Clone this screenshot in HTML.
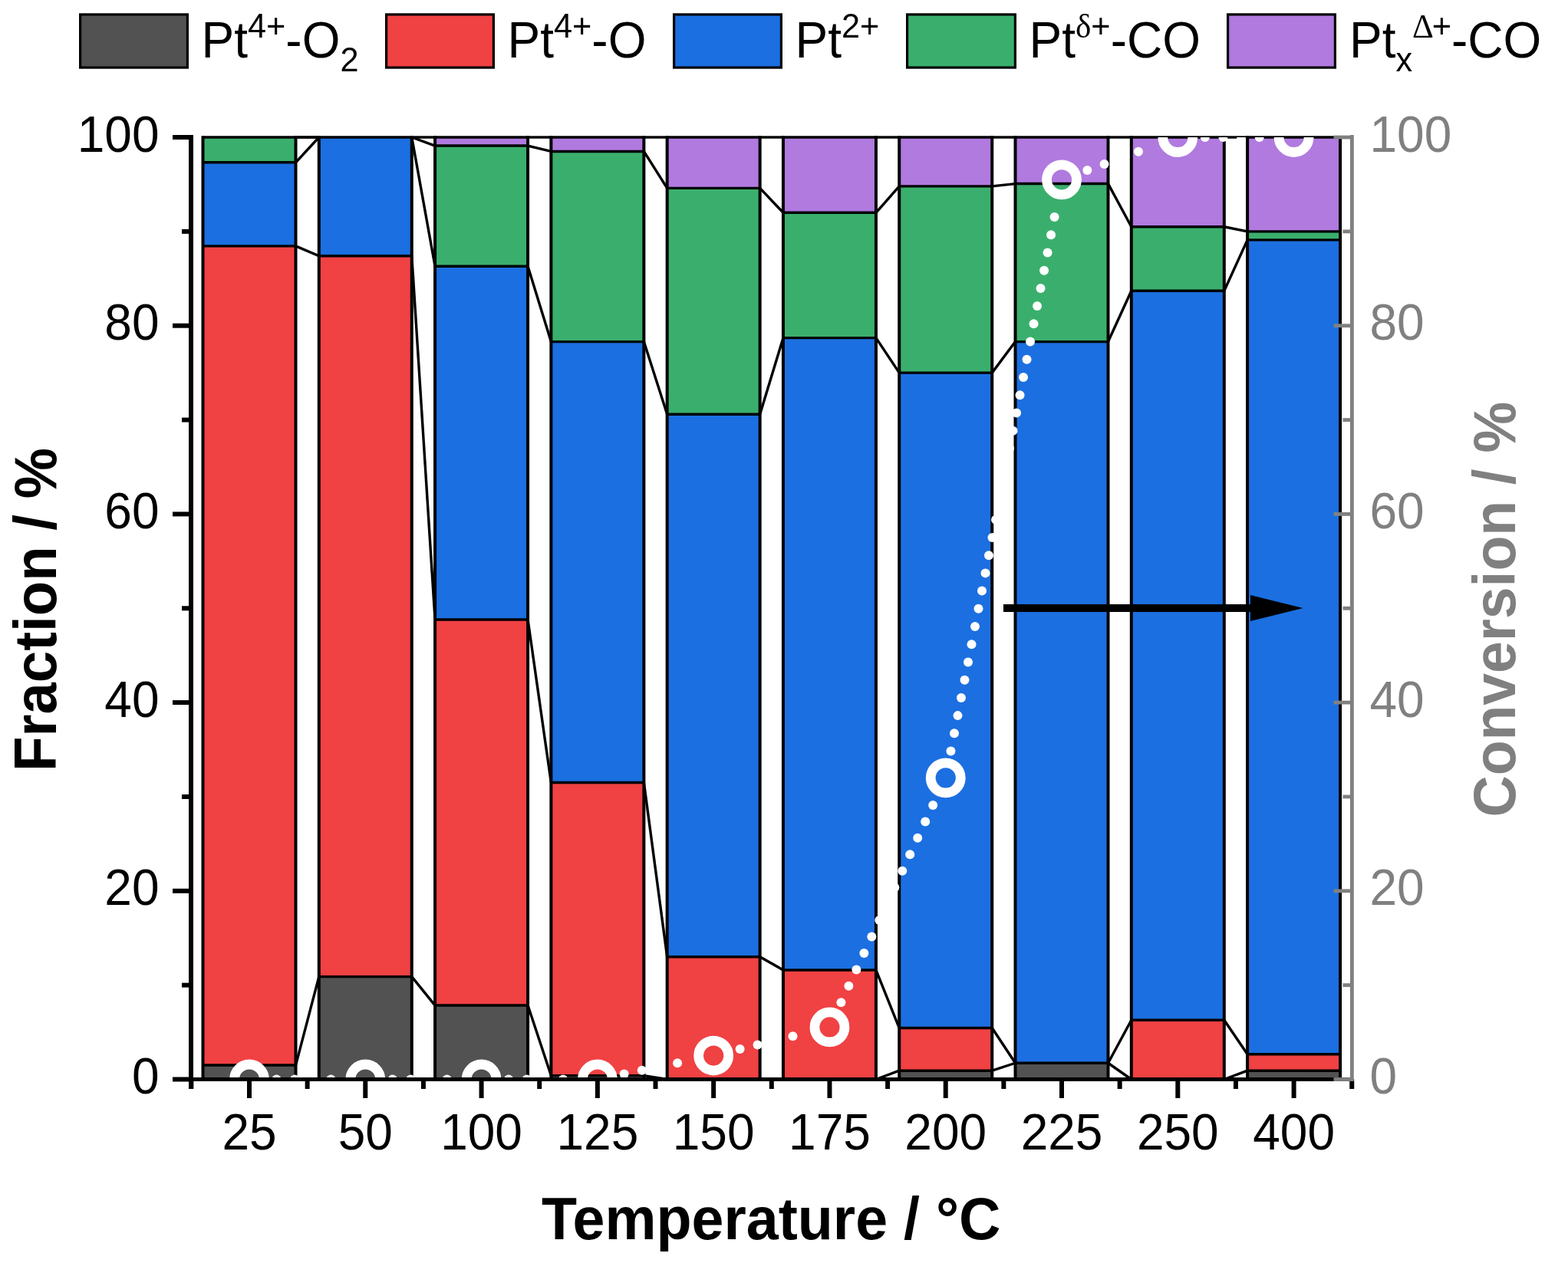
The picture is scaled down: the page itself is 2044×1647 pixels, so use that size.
<!DOCTYPE html>
<html><head><meta charset="utf-8"><title>Pt species fraction vs temperature</title>
<style>html,body{margin:0;padding:0;background:#fff;overflow:hidden;width:2044px;height:1647px;}svg{display:block;}</style>
</head><body>
<svg width="2044" height="1647" viewBox="0 0 2044 1647">
<rect width="2044" height="1647" fill="#fff"/>
<rect x="264.50" y="1389.07" width="121.00" height="18.43" fill="#525252"/>
<rect x="264.50" y="320.89" width="121.00" height="1068.18" fill="#F04143"/>
<rect x="264.50" y="211.80" width="121.00" height="109.09" fill="#1C6FE0"/>
<rect x="264.50" y="179.00" width="121.00" height="32.80" fill="#3AAF6D"/>
<line x1="264.50" y1="1407.50" x2="385.50" y2="1407.50" stroke="#000" stroke-width="3.4"/>
<line x1="264.50" y1="1389.07" x2="385.50" y2="1389.07" stroke="#000" stroke-width="3.4"/>
<line x1="264.50" y1="320.89" x2="385.50" y2="320.89" stroke="#000" stroke-width="3.4"/>
<line x1="264.50" y1="211.80" x2="385.50" y2="211.80" stroke="#000" stroke-width="3.4"/>
<line x1="264.50" y1="179.00" x2="385.50" y2="179.00" stroke="#000" stroke-width="3.4"/>
<line x1="264.50" y1="1409.20" x2="264.50" y2="177.30" stroke="#000" stroke-width="4.0"/>
<line x1="385.50" y1="1409.20" x2="385.50" y2="177.30" stroke="#000" stroke-width="4.0"/>
<rect x="415.79" y="1273.59" width="121.00" height="133.91" fill="#525252"/>
<rect x="415.79" y="333.79" width="121.00" height="939.80" fill="#F04143"/>
<rect x="415.79" y="179.00" width="121.00" height="154.79" fill="#1C6FE0"/>
<line x1="415.79" y1="1407.50" x2="536.79" y2="1407.50" stroke="#000" stroke-width="3.4"/>
<line x1="415.79" y1="1273.59" x2="536.79" y2="1273.59" stroke="#000" stroke-width="3.4"/>
<line x1="415.79" y1="333.79" x2="536.79" y2="333.79" stroke="#000" stroke-width="3.4"/>
<line x1="415.79" y1="179.00" x2="536.79" y2="179.00" stroke="#000" stroke-width="3.4"/>
<line x1="415.79" y1="1409.20" x2="415.79" y2="177.30" stroke="#000" stroke-width="4.0"/>
<line x1="536.79" y1="1409.20" x2="536.79" y2="177.30" stroke="#000" stroke-width="4.0"/>
<rect x="567.08" y="1311.06" width="121.00" height="96.44" fill="#525252"/>
<rect x="567.08" y="807.99" width="121.00" height="503.07" fill="#F04143"/>
<rect x="567.08" y="347.30" width="121.00" height="460.69" fill="#1C6FE0"/>
<rect x="567.08" y="190.06" width="121.00" height="157.25" fill="#3AAF6D"/>
<rect x="567.08" y="179.00" width="121.00" height="11.06" fill="#B07ADF"/>
<line x1="567.08" y1="1407.50" x2="688.08" y2="1407.50" stroke="#000" stroke-width="3.4"/>
<line x1="567.08" y1="1311.06" x2="688.08" y2="1311.06" stroke="#000" stroke-width="3.4"/>
<line x1="567.08" y1="807.99" x2="688.08" y2="807.99" stroke="#000" stroke-width="3.4"/>
<line x1="567.08" y1="347.30" x2="688.08" y2="347.30" stroke="#000" stroke-width="3.4"/>
<line x1="567.08" y1="190.06" x2="688.08" y2="190.06" stroke="#000" stroke-width="3.4"/>
<line x1="567.08" y1="179.00" x2="688.08" y2="179.00" stroke="#000" stroke-width="3.4"/>
<line x1="567.08" y1="1409.20" x2="567.08" y2="177.30" stroke="#000" stroke-width="4.0"/>
<line x1="688.08" y1="1409.20" x2="688.08" y2="177.30" stroke="#000" stroke-width="4.0"/>
<rect x="718.37" y="1402.59" width="121.00" height="4.91" fill="#525252"/>
<rect x="718.37" y="1020.52" width="121.00" height="382.06" fill="#F04143"/>
<rect x="718.37" y="445.58" width="121.00" height="574.94" fill="#1C6FE0"/>
<rect x="718.37" y="197.43" width="121.00" height="248.16" fill="#3AAF6D"/>
<rect x="718.37" y="179.00" width="121.00" height="18.43" fill="#B07ADF"/>
<line x1="718.37" y1="1407.50" x2="839.37" y2="1407.50" stroke="#000" stroke-width="3.4"/>
<line x1="718.37" y1="1402.59" x2="839.37" y2="1402.59" stroke="#000" stroke-width="3.4"/>
<line x1="718.37" y1="1020.52" x2="839.37" y2="1020.52" stroke="#000" stroke-width="3.4"/>
<line x1="718.37" y1="445.58" x2="839.37" y2="445.58" stroke="#000" stroke-width="3.4"/>
<line x1="718.37" y1="197.43" x2="839.37" y2="197.43" stroke="#000" stroke-width="3.4"/>
<line x1="718.37" y1="179.00" x2="839.37" y2="179.00" stroke="#000" stroke-width="3.4"/>
<line x1="718.37" y1="1409.20" x2="718.37" y2="177.30" stroke="#000" stroke-width="4.0"/>
<line x1="839.37" y1="1409.20" x2="839.37" y2="177.30" stroke="#000" stroke-width="4.0"/>
<rect x="869.66" y="1247.80" width="121.00" height="159.70" fill="#F04143"/>
<rect x="869.66" y="540.18" width="121.00" height="707.62" fill="#1C6FE0"/>
<rect x="869.66" y="245.34" width="121.00" height="294.84" fill="#3AAF6D"/>
<rect x="869.66" y="179.00" width="121.00" height="66.34" fill="#B07ADF"/>
<line x1="869.66" y1="1407.50" x2="990.66" y2="1407.50" stroke="#000" stroke-width="3.4"/>
<line x1="869.66" y1="1247.80" x2="990.66" y2="1247.80" stroke="#000" stroke-width="3.4"/>
<line x1="869.66" y1="540.18" x2="990.66" y2="540.18" stroke="#000" stroke-width="3.4"/>
<line x1="869.66" y1="245.34" x2="990.66" y2="245.34" stroke="#000" stroke-width="3.4"/>
<line x1="869.66" y1="179.00" x2="990.66" y2="179.00" stroke="#000" stroke-width="3.4"/>
<line x1="869.66" y1="1409.20" x2="869.66" y2="177.30" stroke="#000" stroke-width="4.0"/>
<line x1="990.66" y1="1409.20" x2="990.66" y2="177.30" stroke="#000" stroke-width="4.0"/>
<rect x="1020.95" y="1264.99" width="121.00" height="142.51" fill="#F04143"/>
<rect x="1020.95" y="440.67" width="121.00" height="824.32" fill="#1C6FE0"/>
<rect x="1020.95" y="277.28" width="121.00" height="163.39" fill="#3AAF6D"/>
<rect x="1020.95" y="179.00" width="121.00" height="98.28" fill="#B07ADF"/>
<line x1="1020.95" y1="1407.50" x2="1141.95" y2="1407.50" stroke="#000" stroke-width="3.4"/>
<line x1="1020.95" y1="1264.99" x2="1141.95" y2="1264.99" stroke="#000" stroke-width="3.4"/>
<line x1="1020.95" y1="440.67" x2="1141.95" y2="440.67" stroke="#000" stroke-width="3.4"/>
<line x1="1020.95" y1="277.28" x2="1141.95" y2="277.28" stroke="#000" stroke-width="3.4"/>
<line x1="1020.95" y1="179.00" x2="1141.95" y2="179.00" stroke="#000" stroke-width="3.4"/>
<line x1="1020.95" y1="1409.20" x2="1020.95" y2="177.30" stroke="#000" stroke-width="4.0"/>
<line x1="1141.95" y1="1409.20" x2="1141.95" y2="177.30" stroke="#000" stroke-width="4.0"/>
<rect x="1172.24" y="1396.20" width="121.00" height="11.30" fill="#525252"/>
<rect x="1172.24" y="1340.55" width="121.00" height="55.65" fill="#F04143"/>
<rect x="1172.24" y="486.12" width="121.00" height="854.42" fill="#1C6FE0"/>
<rect x="1172.24" y="242.88" width="121.00" height="243.24" fill="#3AAF6D"/>
<rect x="1172.24" y="179.00" width="121.00" height="63.88" fill="#B07ADF"/>
<line x1="1172.24" y1="1407.50" x2="1293.24" y2="1407.50" stroke="#000" stroke-width="3.4"/>
<line x1="1172.24" y1="1396.20" x2="1293.24" y2="1396.20" stroke="#000" stroke-width="3.4"/>
<line x1="1172.24" y1="1340.55" x2="1293.24" y2="1340.55" stroke="#000" stroke-width="3.4"/>
<line x1="1172.24" y1="486.12" x2="1293.24" y2="486.12" stroke="#000" stroke-width="3.4"/>
<line x1="1172.24" y1="242.88" x2="1293.24" y2="242.88" stroke="#000" stroke-width="3.4"/>
<line x1="1172.24" y1="179.00" x2="1293.24" y2="179.00" stroke="#000" stroke-width="3.4"/>
<line x1="1172.24" y1="1409.20" x2="1172.24" y2="177.30" stroke="#000" stroke-width="4.0"/>
<line x1="1293.24" y1="1409.20" x2="1293.24" y2="177.30" stroke="#000" stroke-width="4.0"/>
<rect x="1323.53" y="1386.25" width="121.00" height="21.25" fill="#525252"/>
<rect x="1323.53" y="445.58" width="121.00" height="940.66" fill="#1C6FE0"/>
<rect x="1323.53" y="239.57" width="121.00" height="206.02" fill="#3AAF6D"/>
<rect x="1323.53" y="179.00" width="121.00" height="60.57" fill="#B07ADF"/>
<line x1="1323.53" y1="1407.50" x2="1444.53" y2="1407.50" stroke="#000" stroke-width="3.4"/>
<line x1="1323.53" y1="1386.25" x2="1444.53" y2="1386.25" stroke="#000" stroke-width="3.4"/>
<line x1="1323.53" y1="445.58" x2="1444.53" y2="445.58" stroke="#000" stroke-width="3.4"/>
<line x1="1323.53" y1="239.57" x2="1444.53" y2="239.57" stroke="#000" stroke-width="3.4"/>
<line x1="1323.53" y1="179.00" x2="1444.53" y2="179.00" stroke="#000" stroke-width="3.4"/>
<line x1="1323.53" y1="1409.20" x2="1323.53" y2="177.30" stroke="#000" stroke-width="4.0"/>
<line x1="1444.53" y1="1409.20" x2="1444.53" y2="177.30" stroke="#000" stroke-width="4.0"/>
<rect x="1474.82" y="1330.23" width="121.00" height="77.27" fill="#F04143"/>
<rect x="1474.82" y="379.25" width="121.00" height="950.98" fill="#1C6FE0"/>
<rect x="1474.82" y="295.71" width="121.00" height="83.54" fill="#3AAF6D"/>
<rect x="1474.82" y="179.00" width="121.00" height="116.71" fill="#B07ADF"/>
<line x1="1474.82" y1="1407.50" x2="1595.82" y2="1407.50" stroke="#000" stroke-width="3.4"/>
<line x1="1474.82" y1="1330.23" x2="1595.82" y2="1330.23" stroke="#000" stroke-width="3.4"/>
<line x1="1474.82" y1="379.25" x2="1595.82" y2="379.25" stroke="#000" stroke-width="3.4"/>
<line x1="1474.82" y1="295.71" x2="1595.82" y2="295.71" stroke="#000" stroke-width="3.4"/>
<line x1="1474.82" y1="179.00" x2="1595.82" y2="179.00" stroke="#000" stroke-width="3.4"/>
<line x1="1474.82" y1="1409.20" x2="1474.82" y2="177.30" stroke="#000" stroke-width="4.0"/>
<line x1="1595.82" y1="1409.20" x2="1595.82" y2="177.30" stroke="#000" stroke-width="4.0"/>
<rect x="1626.11" y="1396.20" width="121.00" height="11.30" fill="#525252"/>
<rect x="1626.11" y="1374.70" width="121.00" height="21.50" fill="#F04143"/>
<rect x="1626.11" y="312.91" width="121.00" height="1061.79" fill="#1C6FE0"/>
<rect x="1626.11" y="301.85" width="121.00" height="11.06" fill="#3AAF6D"/>
<rect x="1626.11" y="179.00" width="121.00" height="122.85" fill="#B07ADF"/>
<line x1="1626.11" y1="1407.50" x2="1747.11" y2="1407.50" stroke="#000" stroke-width="3.4"/>
<line x1="1626.11" y1="1396.20" x2="1747.11" y2="1396.20" stroke="#000" stroke-width="3.4"/>
<line x1="1626.11" y1="1374.70" x2="1747.11" y2="1374.70" stroke="#000" stroke-width="3.4"/>
<line x1="1626.11" y1="312.91" x2="1747.11" y2="312.91" stroke="#000" stroke-width="3.4"/>
<line x1="1626.11" y1="301.85" x2="1747.11" y2="301.85" stroke="#000" stroke-width="3.4"/>
<line x1="1626.11" y1="179.00" x2="1747.11" y2="179.00" stroke="#000" stroke-width="3.4"/>
<line x1="1626.11" y1="1409.20" x2="1626.11" y2="177.30" stroke="#000" stroke-width="4.0"/>
<line x1="1747.11" y1="1409.20" x2="1747.11" y2="177.30" stroke="#000" stroke-width="4.0"/>
<line x1="385.50" y1="1389.07" x2="415.79" y2="1273.59" stroke="#000" stroke-width="3.4"/>
<line x1="385.50" y1="320.89" x2="415.79" y2="333.79" stroke="#000" stroke-width="3.4"/>
<line x1="385.50" y1="211.80" x2="415.79" y2="179.00" stroke="#000" stroke-width="3.4"/>
<line x1="385.50" y1="179.00" x2="415.79" y2="179.00" stroke="#000" stroke-width="3.4"/>
<line x1="385.50" y1="179.00" x2="415.79" y2="179.00" stroke="#000" stroke-width="3.4"/>
<line x1="536.79" y1="1273.59" x2="567.08" y2="1311.06" stroke="#000" stroke-width="3.4"/>
<line x1="536.79" y1="333.79" x2="567.08" y2="807.99" stroke="#000" stroke-width="3.4"/>
<line x1="536.79" y1="179.00" x2="567.08" y2="347.30" stroke="#000" stroke-width="3.4"/>
<line x1="536.79" y1="179.00" x2="567.08" y2="190.06" stroke="#000" stroke-width="3.4"/>
<line x1="536.79" y1="179.00" x2="567.08" y2="179.00" stroke="#000" stroke-width="3.4"/>
<line x1="688.08" y1="1311.06" x2="718.37" y2="1402.59" stroke="#000" stroke-width="3.4"/>
<line x1="688.08" y1="807.99" x2="718.37" y2="1020.52" stroke="#000" stroke-width="3.4"/>
<line x1="688.08" y1="347.30" x2="718.37" y2="445.58" stroke="#000" stroke-width="3.4"/>
<line x1="688.08" y1="190.06" x2="718.37" y2="197.43" stroke="#000" stroke-width="3.4"/>
<line x1="688.08" y1="179.00" x2="718.37" y2="179.00" stroke="#000" stroke-width="3.4"/>
<line x1="839.37" y1="1402.59" x2="869.66" y2="1407.50" stroke="#000" stroke-width="3.4"/>
<line x1="839.37" y1="1020.52" x2="869.66" y2="1247.80" stroke="#000" stroke-width="3.4"/>
<line x1="839.37" y1="445.58" x2="869.66" y2="540.18" stroke="#000" stroke-width="3.4"/>
<line x1="839.37" y1="197.43" x2="869.66" y2="245.34" stroke="#000" stroke-width="3.4"/>
<line x1="839.37" y1="179.00" x2="869.66" y2="179.00" stroke="#000" stroke-width="3.4"/>
<line x1="990.66" y1="1407.50" x2="1020.95" y2="1407.50" stroke="#000" stroke-width="3.4"/>
<line x1="990.66" y1="1247.80" x2="1020.95" y2="1264.99" stroke="#000" stroke-width="3.4"/>
<line x1="990.66" y1="540.18" x2="1020.95" y2="440.67" stroke="#000" stroke-width="3.4"/>
<line x1="990.66" y1="245.34" x2="1020.95" y2="277.28" stroke="#000" stroke-width="3.4"/>
<line x1="990.66" y1="179.00" x2="1020.95" y2="179.00" stroke="#000" stroke-width="3.4"/>
<line x1="1141.95" y1="1407.50" x2="1172.24" y2="1396.20" stroke="#000" stroke-width="3.4"/>
<line x1="1141.95" y1="1264.99" x2="1172.24" y2="1340.55" stroke="#000" stroke-width="3.4"/>
<line x1="1141.95" y1="440.67" x2="1172.24" y2="486.12" stroke="#000" stroke-width="3.4"/>
<line x1="1141.95" y1="277.28" x2="1172.24" y2="242.88" stroke="#000" stroke-width="3.4"/>
<line x1="1141.95" y1="179.00" x2="1172.24" y2="179.00" stroke="#000" stroke-width="3.4"/>
<line x1="1293.24" y1="1396.20" x2="1323.53" y2="1386.25" stroke="#000" stroke-width="3.4"/>
<line x1="1293.24" y1="1340.55" x2="1323.53" y2="1386.25" stroke="#000" stroke-width="3.4"/>
<line x1="1293.24" y1="486.12" x2="1323.53" y2="445.58" stroke="#000" stroke-width="3.4"/>
<line x1="1293.24" y1="242.88" x2="1323.53" y2="239.57" stroke="#000" stroke-width="3.4"/>
<line x1="1293.24" y1="179.00" x2="1323.53" y2="179.00" stroke="#000" stroke-width="3.4"/>
<line x1="1444.53" y1="1386.25" x2="1474.82" y2="1407.50" stroke="#000" stroke-width="3.4"/>
<line x1="1444.53" y1="1386.25" x2="1474.82" y2="1330.23" stroke="#000" stroke-width="3.4"/>
<line x1="1444.53" y1="445.58" x2="1474.82" y2="379.25" stroke="#000" stroke-width="3.4"/>
<line x1="1444.53" y1="239.57" x2="1474.82" y2="295.71" stroke="#000" stroke-width="3.4"/>
<line x1="1444.53" y1="179.00" x2="1474.82" y2="179.00" stroke="#000" stroke-width="3.4"/>
<line x1="1595.82" y1="1407.50" x2="1626.11" y2="1396.20" stroke="#000" stroke-width="3.4"/>
<line x1="1595.82" y1="1330.23" x2="1626.11" y2="1374.70" stroke="#000" stroke-width="3.4"/>
<line x1="1595.82" y1="379.25" x2="1626.11" y2="312.91" stroke="#000" stroke-width="3.4"/>
<line x1="1595.82" y1="295.71" x2="1626.11" y2="301.85" stroke="#000" stroke-width="3.4"/>
<line x1="1595.82" y1="179.00" x2="1626.11" y2="179.00" stroke="#000" stroke-width="3.4"/>
<clipPath id="pa"><rect x="249" y="179.00" width="1513.4" height="1228.50"/></clipPath>
<g clip-path="url(#pa)">
<circle cx="360.48" cy="1407.50" r="6" fill="#fff"/>
<circle cx="384.12" cy="1407.50" r="6" fill="#fff"/>
<circle cx="407.77" cy="1407.50" r="6" fill="#fff"/>
<circle cx="431.43" cy="1407.50" r="6" fill="#fff"/>
<circle cx="511.76" cy="1407.50" r="6" fill="#fff"/>
<circle cx="535.41" cy="1407.50" r="6" fill="#fff"/>
<circle cx="559.06" cy="1407.50" r="6" fill="#fff"/>
<circle cx="582.71" cy="1407.50" r="6" fill="#fff"/>
<circle cx="663.05" cy="1407.50" r="6" fill="#fff"/>
<circle cx="686.70" cy="1407.50" r="6" fill="#fff"/>
<circle cx="710.35" cy="1407.50" r="6" fill="#fff"/>
<circle cx="734.00" cy="1407.50" r="6" fill="#fff"/>
<circle cx="813.62" cy="1400.39" r="6" fill="#fff"/>
<circle cx="836.79" cy="1395.65" r="6" fill="#fff"/>
<circle cx="859.96" cy="1390.91" r="6" fill="#fff"/>
<circle cx="883.13" cy="1386.16" r="6" fill="#fff"/>
<circle cx="964.61" cy="1368.09" r="6" fill="#fff"/>
<circle cx="987.58" cy="1362.46" r="6" fill="#fff"/>
<circle cx="1010.55" cy="1356.83" r="6" fill="#fff"/>
<circle cx="1033.52" cy="1351.19" r="6" fill="#fff"/>
<circle cx="1096.42" cy="1307.28" r="6" fill="#fff"/>
<circle cx="1106.40" cy="1285.84" r="6" fill="#fff"/>
<circle cx="1116.38" cy="1264.40" r="6" fill="#fff"/>
<circle cx="1126.36" cy="1242.95" r="6" fill="#fff"/>
<circle cx="1136.34" cy="1221.51" r="6" fill="#fff"/>
<circle cx="1146.32" cy="1200.07" r="6" fill="#fff"/>
<circle cx="1156.29" cy="1178.63" r="6" fill="#fff"/>
<circle cx="1166.27" cy="1157.19" r="6" fill="#fff"/>
<circle cx="1176.25" cy="1135.75" r="6" fill="#fff"/>
<circle cx="1186.23" cy="1114.31" r="6" fill="#fff"/>
<circle cx="1196.21" cy="1092.86" r="6" fill="#fff"/>
<circle cx="1206.19" cy="1071.42" r="6" fill="#fff"/>
<circle cx="1216.17" cy="1049.98" r="6" fill="#fff"/>
<circle cx="1239.49" cy="979.55" r="6" fill="#fff"/>
<circle cx="1244.00" cy="956.34" r="6" fill="#fff"/>
<circle cx="1248.50" cy="933.12" r="6" fill="#fff"/>
<circle cx="1253.00" cy="909.90" r="6" fill="#fff"/>
<circle cx="1257.50" cy="886.68" r="6" fill="#fff"/>
<circle cx="1262.01" cy="863.47" r="6" fill="#fff"/>
<circle cx="1266.51" cy="840.25" r="6" fill="#fff"/>
<circle cx="1271.01" cy="817.03" r="6" fill="#fff"/>
<circle cx="1275.52" cy="793.81" r="6" fill="#fff"/>
<circle cx="1280.02" cy="770.60" r="6" fill="#fff"/>
<circle cx="1284.52" cy="747.38" r="6" fill="#fff"/>
<circle cx="1289.02" cy="724.16" r="6" fill="#fff"/>
<circle cx="1293.53" cy="700.95" r="6" fill="#fff"/>
<circle cx="1298.03" cy="677.73" r="6" fill="#fff"/>
<circle cx="1302.53" cy="654.51" r="6" fill="#fff"/>
<circle cx="1307.03" cy="631.29" r="6" fill="#fff"/>
<circle cx="1311.54" cy="608.08" r="6" fill="#fff"/>
<circle cx="1316.04" cy="584.86" r="6" fill="#fff"/>
<circle cx="1320.54" cy="561.64" r="6" fill="#fff"/>
<circle cx="1325.05" cy="538.42" r="6" fill="#fff"/>
<circle cx="1329.55" cy="515.21" r="6" fill="#fff"/>
<circle cx="1334.05" cy="491.99" r="6" fill="#fff"/>
<circle cx="1338.55" cy="468.77" r="6" fill="#fff"/>
<circle cx="1343.06" cy="445.55" r="6" fill="#fff"/>
<circle cx="1347.56" cy="422.34" r="6" fill="#fff"/>
<circle cx="1352.06" cy="399.12" r="6" fill="#fff"/>
<circle cx="1356.56" cy="375.90" r="6" fill="#fff"/>
<circle cx="1361.07" cy="352.68" r="6" fill="#fff"/>
<circle cx="1365.57" cy="329.47" r="6" fill="#fff"/>
<circle cx="1370.07" cy="306.25" r="6" fill="#fff"/>
<circle cx="1374.58" cy="283.03" r="6" fill="#fff"/>
<circle cx="1417.35" cy="222.11" r="6" fill="#fff"/>
<circle cx="1439.56" cy="213.99" r="6" fill="#fff"/>
<circle cx="1461.78" cy="205.87" r="6" fill="#fff"/>
<circle cx="1483.99" cy="197.76" r="6" fill="#fff"/>
<circle cx="1570.79" cy="179.00" r="6" fill="#fff"/>
<circle cx="1594.44" cy="179.00" r="6" fill="#fff"/>
<circle cx="1618.10" cy="179.00" r="6" fill="#fff"/>
<circle cx="1641.74" cy="179.00" r="6" fill="#fff"/>
<circle cx="325.00" cy="1407.50" r="19.5" fill="none" stroke="#fff" stroke-width="12.8"/>
<circle cx="476.29" cy="1407.50" r="19.5" fill="none" stroke="#fff" stroke-width="12.8"/>
<circle cx="627.58" cy="1407.50" r="19.5" fill="none" stroke="#fff" stroke-width="12.8"/>
<circle cx="778.87" cy="1407.50" r="19.5" fill="none" stroke="#fff" stroke-width="12.8"/>
<circle cx="930.16" cy="1376.54" r="19.5" fill="none" stroke="#fff" stroke-width="12.8"/>
<circle cx="1081.45" cy="1339.44" r="19.5" fill="none" stroke="#fff" stroke-width="12.8"/>
<circle cx="1232.74" cy="1014.38" r="19.5" fill="none" stroke="#fff" stroke-width="12.8"/>
<circle cx="1384.03" cy="234.28" r="19.5" fill="none" stroke="#fff" stroke-width="12.8"/>
<circle cx="1535.32" cy="179.00" r="19.5" fill="none" stroke="#fff" stroke-width="12.8"/>
<circle cx="1686.61" cy="179.00" r="19.5" fill="none" stroke="#fff" stroke-width="12.8"/>
</g>
<line x1="249" y1="176" x2="249" y2="1420" stroke="#000" stroke-width="6"/>
<line x1="225" y1="1407.5" x2="1762" y2="1407.5" stroke="#000" stroke-width="5"/>
<line x1="225" y1="1407.50" x2="249" y2="1407.50" stroke="#000" stroke-width="6"/>
<line x1="225" y1="1161.80" x2="249" y2="1161.80" stroke="#000" stroke-width="6"/>
<line x1="225" y1="916.10" x2="249" y2="916.10" stroke="#000" stroke-width="6"/>
<line x1="225" y1="670.40" x2="249" y2="670.40" stroke="#000" stroke-width="6"/>
<line x1="225" y1="424.70" x2="249" y2="424.70" stroke="#000" stroke-width="6"/>
<line x1="225" y1="179.00" x2="249" y2="179.00" stroke="#000" stroke-width="6"/>
<line x1="237" y1="1284.65" x2="249" y2="1284.65" stroke="#000" stroke-width="6"/>
<line x1="237" y1="1038.95" x2="249" y2="1038.95" stroke="#000" stroke-width="6"/>
<line x1="237" y1="793.25" x2="249" y2="793.25" stroke="#000" stroke-width="6"/>
<line x1="237" y1="547.55" x2="249" y2="547.55" stroke="#000" stroke-width="6"/>
<line x1="237" y1="301.85" x2="249" y2="301.85" stroke="#000" stroke-width="6"/>
<line x1="325.00" y1="1407.5" x2="325.00" y2="1432" stroke="#000" stroke-width="6"/>
<line x1="476.29" y1="1407.5" x2="476.29" y2="1432" stroke="#000" stroke-width="6"/>
<line x1="627.58" y1="1407.5" x2="627.58" y2="1432" stroke="#000" stroke-width="6"/>
<line x1="778.87" y1="1407.5" x2="778.87" y2="1432" stroke="#000" stroke-width="6"/>
<line x1="930.16" y1="1407.5" x2="930.16" y2="1432" stroke="#000" stroke-width="6"/>
<line x1="1081.45" y1="1407.5" x2="1081.45" y2="1432" stroke="#000" stroke-width="6"/>
<line x1="1232.74" y1="1407.5" x2="1232.74" y2="1432" stroke="#000" stroke-width="6"/>
<line x1="1384.03" y1="1407.5" x2="1384.03" y2="1432" stroke="#000" stroke-width="6"/>
<line x1="1535.32" y1="1407.5" x2="1535.32" y2="1432" stroke="#000" stroke-width="6"/>
<line x1="1686.61" y1="1407.5" x2="1686.61" y2="1432" stroke="#000" stroke-width="6"/>
<line x1="249.36" y1="1407.5" x2="249.36" y2="1420" stroke="#000" stroke-width="6"/>
<line x1="400.64" y1="1407.5" x2="400.64" y2="1420" stroke="#000" stroke-width="6"/>
<line x1="551.93" y1="1407.5" x2="551.93" y2="1420" stroke="#000" stroke-width="6"/>
<line x1="703.23" y1="1407.5" x2="703.23" y2="1420" stroke="#000" stroke-width="6"/>
<line x1="854.51" y1="1407.5" x2="854.51" y2="1420" stroke="#000" stroke-width="6"/>
<line x1="1005.80" y1="1407.5" x2="1005.80" y2="1420" stroke="#000" stroke-width="6"/>
<line x1="1157.10" y1="1407.5" x2="1157.10" y2="1420" stroke="#000" stroke-width="6"/>
<line x1="1308.38" y1="1407.5" x2="1308.38" y2="1420" stroke="#000" stroke-width="6"/>
<line x1="1459.67" y1="1407.5" x2="1459.67" y2="1420" stroke="#000" stroke-width="6"/>
<line x1="1610.96" y1="1407.5" x2="1610.96" y2="1420" stroke="#000" stroke-width="6"/>
<line x1="1762.25" y1="1407.5" x2="1762.25" y2="1420" stroke="#000" stroke-width="6"/>
<line x1="1762.4" y1="176" x2="1762.4" y2="1410" stroke="#808080" stroke-width="4.8"/>
<line x1="1738.5" y1="1407.50" x2="1762.4" y2="1407.50" stroke="#808080" stroke-width="4.8"/>
<line x1="1738.5" y1="1161.80" x2="1762.4" y2="1161.80" stroke="#808080" stroke-width="4.8"/>
<line x1="1738.5" y1="916.10" x2="1762.4" y2="916.10" stroke="#808080" stroke-width="4.8"/>
<line x1="1738.5" y1="670.40" x2="1762.4" y2="670.40" stroke="#808080" stroke-width="4.8"/>
<line x1="1738.5" y1="424.70" x2="1762.4" y2="424.70" stroke="#808080" stroke-width="4.8"/>
<line x1="1738.5" y1="179.00" x2="1762.4" y2="179.00" stroke="#808080" stroke-width="4.8"/>
<line x1="1750.5" y1="1284.65" x2="1762.4" y2="1284.65" stroke="#808080" stroke-width="4.8"/>
<line x1="1750.5" y1="1038.95" x2="1762.4" y2="1038.95" stroke="#808080" stroke-width="4.8"/>
<line x1="1750.5" y1="793.25" x2="1762.4" y2="793.25" stroke="#808080" stroke-width="4.8"/>
<line x1="1750.5" y1="547.55" x2="1762.4" y2="547.55" stroke="#808080" stroke-width="4.8"/>
<line x1="1750.5" y1="301.85" x2="1762.4" y2="301.85" stroke="#808080" stroke-width="4.8"/>
<line x1="1308" y1="793" x2="1640" y2="793" stroke="#000" stroke-width="10"/>
<polygon points="1630,776 1698.5,793 1630,810" fill="#000"/>
<text transform="translate(207.5,1426.00) scale(1,1.03)" font-family="Liberation Sans, Arial, sans-serif" font-size="64" text-anchor="end">0</text>
<text transform="translate(1785.5,1426.00) scale(1,1.03)" font-family="Liberation Sans, Arial, sans-serif" font-size="64" fill="#808080">0</text>
<text transform="translate(207.5,1180.30) scale(1,1.03)" font-family="Liberation Sans, Arial, sans-serif" font-size="64" text-anchor="end">20</text>
<text transform="translate(1785.5,1180.30) scale(1,1.03)" font-family="Liberation Sans, Arial, sans-serif" font-size="64" fill="#808080">20</text>
<text transform="translate(207.5,934.60) scale(1,1.03)" font-family="Liberation Sans, Arial, sans-serif" font-size="64" text-anchor="end">40</text>
<text transform="translate(1785.5,934.60) scale(1,1.03)" font-family="Liberation Sans, Arial, sans-serif" font-size="64" fill="#808080">40</text>
<text transform="translate(207.5,688.90) scale(1,1.03)" font-family="Liberation Sans, Arial, sans-serif" font-size="64" text-anchor="end">60</text>
<text transform="translate(1785.5,688.90) scale(1,1.03)" font-family="Liberation Sans, Arial, sans-serif" font-size="64" fill="#808080">60</text>
<text transform="translate(207.5,443.20) scale(1,1.03)" font-family="Liberation Sans, Arial, sans-serif" font-size="64" text-anchor="end">80</text>
<text transform="translate(1785.5,443.20) scale(1,1.03)" font-family="Liberation Sans, Arial, sans-serif" font-size="64" fill="#808080">80</text>
<text transform="translate(207.5,197.50) scale(1,1.03)" font-family="Liberation Sans, Arial, sans-serif" font-size="64" text-anchor="end">100</text>
<text transform="translate(1785.5,197.50) scale(1,1.03)" font-family="Liberation Sans, Arial, sans-serif" font-size="64" fill="#808080">100</text>
<text transform="translate(325.00,1499) scale(1,1.03)" font-family="Liberation Sans, Arial, sans-serif" font-size="64" text-anchor="middle">25</text>
<text transform="translate(476.29,1499) scale(1,1.03)" font-family="Liberation Sans, Arial, sans-serif" font-size="64" text-anchor="middle">50</text>
<text transform="translate(627.58,1499) scale(1,1.03)" font-family="Liberation Sans, Arial, sans-serif" font-size="64" text-anchor="middle">100</text>
<text transform="translate(778.87,1499) scale(1,1.03)" font-family="Liberation Sans, Arial, sans-serif" font-size="64" text-anchor="middle">125</text>
<text transform="translate(930.16,1499) scale(1,1.03)" font-family="Liberation Sans, Arial, sans-serif" font-size="64" text-anchor="middle">150</text>
<text transform="translate(1081.45,1499) scale(1,1.03)" font-family="Liberation Sans, Arial, sans-serif" font-size="64" text-anchor="middle">175</text>
<text transform="translate(1232.74,1499) scale(1,1.03)" font-family="Liberation Sans, Arial, sans-serif" font-size="64" text-anchor="middle">200</text>
<text transform="translate(1384.03,1499) scale(1,1.03)" font-family="Liberation Sans, Arial, sans-serif" font-size="64" text-anchor="middle">225</text>
<text transform="translate(1535.32,1499) scale(1,1.03)" font-family="Liberation Sans, Arial, sans-serif" font-size="64" text-anchor="middle">250</text>
<text transform="translate(1686.61,1499) scale(1,1.03)" font-family="Liberation Sans, Arial, sans-serif" font-size="64" text-anchor="middle">400</text>
<text transform="translate(706,1616) scale(1,1.04)" font-family="Liberation Sans, Arial, sans-serif" font-size="75" font-weight="bold" textLength="598.5" lengthAdjust="spacingAndGlyphs">Temperature / °C</text>
<text transform="translate(73.2,1006) rotate(-90) scale(1,1.04)" font-family="Liberation Sans, Arial, sans-serif" font-size="75" font-weight="bold" textLength="421.9" lengthAdjust="spacingAndGlyphs">Fraction / %</text>
<text transform="translate(1975,1065.5) rotate(-90) scale(1,1.04)" font-family="Liberation Sans, Arial, sans-serif" font-size="75" font-weight="bold" fill="#808080">Conversion / %</text>
<rect x="104.6" y="18.9" width="139.8" height="69.2" fill="#525252" stroke="#000" stroke-width="3.2"/>
<rect x="503.6" y="18.9" width="139.8" height="69.2" fill="#F04143" stroke="#000" stroke-width="3.2"/>
<rect x="878.6" y="18.9" width="139.8" height="69.2" fill="#1C6FE0" stroke="#000" stroke-width="3.2"/>
<rect x="1182.6" y="18.9" width="140.8" height="69.2" fill="#3AAF6D" stroke="#000" stroke-width="3.2"/>
<rect x="1600.6" y="18.9" width="139.8" height="69.2" fill="#B07ADF" stroke="#000" stroke-width="3.2"/>
<text transform="translate(262.5,75.2) scale(1,1.03)" font-family="Liberation Sans, Arial, sans-serif" font-size="64">Pt<tspan dy="-25.92" font-size="43.3">4+</tspan><tspan dy="25.92">-O</tspan><tspan dy="16.99" font-size="43.3">2</tspan></text>
<text transform="translate(661.5,75.2) scale(1,1.03)" font-family="Liberation Sans, Arial, sans-serif" font-size="64">Pt<tspan dy="-25.92" font-size="43.3">4+</tspan><tspan dy="25.92">-O</tspan></text>
<text transform="translate(1036.5,75.2) scale(1,1.03)" font-family="Liberation Sans, Arial, sans-serif" font-size="64">Pt<tspan dy="-25.92" font-size="43.3">2+</tspan></text>
<text transform="translate(1341.5,75.2) scale(1,1.03)" font-family="Liberation Sans, Arial, sans-serif" font-size="64">Pt<tspan dy="-25.92" font-size="43.3" font-family="Liberation Serif, serif">δ</tspan><tspan font-size="43.3">+</tspan><tspan dy="25.92">-CO</tspan></text>
<text transform="translate(1759,75.2) scale(1,1.03)" font-family="Liberation Sans, Arial, sans-serif" font-size="64">Pt<tspan dy="16.99" font-size="43.3">x</tspan><tspan dy="-42.91" font-size="43.3" font-family="Liberation Serif, serif">Δ</tspan><tspan dx="-2.2" font-size="43.3">+</tspan><tspan dy="25.92">-CO</tspan></text>
</svg>
</body></html>
